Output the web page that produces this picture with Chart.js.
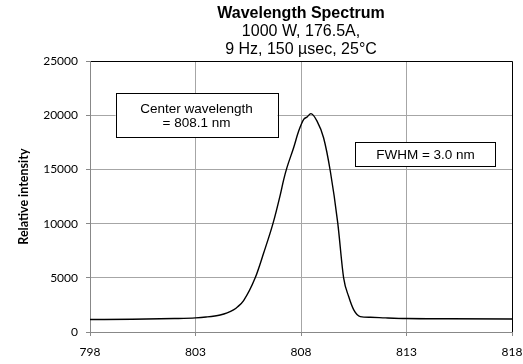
<!DOCTYPE html>
<html>
<head>
<meta charset="utf-8">
<script src="https://cdn.jsdelivr.net/npm/chart.js@4"></script>
<style>
    html, body { margin: 0; padding: 0; background: #fff; }
    #wrap { width: 523px; height: 364px; }
</style>
</head>
<body>
<div id="wrap"><canvas id="spectrumChart"></canvas></div>
<script>
// wavelength (nm) and relative intensity
const wavelength = [798, 800, 802, 803, 803.5, 804.17, 804.5, 804.8, 805.0, 805.28, 805.83, 806.23, 806.67, 807.02, 807.18, 807.33, 807.65, 807.89, 808.13, 808.28, 808.47, 808.76, 809.07, 809.39, 809.74, 810.02, 810.26, 810.5, 810.81, 811.29, 812, 813, 815, 818];
const intensity = [1150, 1180, 1240, 1300, 1380, 1570, 1760, 2040, 2330, 2900, 5000, 7290, 10000, 12690, 14070, 15150, 17010, 18550, 19630, 19840, 20160, 19470, 17930, 14840, 10100, 5000, 3270, 2040, 1420, 1360, 1300, 1240, 1220, 1200];

const xTicks = [798, 803, 808, 813, 818];
const titleText = 'Wavelength Spectrum';
const subtitleLines = ['1000 W, 176.5A,', '9 Hz, 150 \u00b5sec, 25\u00b0C'];
const notes = [
    { lines: ['Center wavelength', '= 808.1 nm'], x: 803.05, y: 20000, w: 162, h: 44 },
    { lines: ['FWHM = 3.0 nm'], x: 813.9, y: 16390, w: 140, h: 24 }
];

const ctx = document.getElementById('spectrumChart').getContext('2d');

const notesPlugin = {
    id: 'notes',
    afterDatasetsDraw(chart) {
        const c = chart.ctx;
        const xs = chart.scales.x, ys = chart.scales.y;
        c.save();
        notes.forEach(n => {
            const cx = xs.getPixelForValue(n.x);
            const cy = ys.getPixelForValue(n.y);
            c.fillStyle = '#fff';
            c.fillRect(cx - n.w / 2, cy - n.h / 2, n.w, n.h);
            c.strokeStyle = '#000';
            c.lineWidth = 1;
            c.strokeRect(Math.round(cx - n.w / 2) + 0.5, Math.round(cy - n.h / 2) + 0.5, n.w, n.h);
            c.fillStyle = '#000';
            c.font = '13.5px "Liberation Sans", Arial, sans-serif';
            c.textAlign = 'center';
            c.textBaseline = 'middle';
            const lh = 14;
            const start = cy - (n.lines.length - 1) * lh / 2;
            n.lines.forEach((t, i) => c.fillText(t, cx, start + i * lh + 1));
        });
        c.restore();
    }
};

new Chart(ctx, {
    type: 'scatter',
    data: {
        datasets: [{
            data: wavelength.map((w, i) => ({ x: w, y: intensity[i] })),
            showLine: true,
            borderColor: '#000',
            borderWidth: 1.4,
            pointRadius: 0,
            cubicInterpolationMode: 'monotone'
        }]
    },
    options: {
        responsive: true,
        maintainAspectRatio: false,
        animation: false,
        layout: { padding: 0 },
        plugins: {
            legend: { display: false },
            tooltip: { enabled: false },
            title: {
                display: true,
                text: titleText,
                fullSize: false,
                color: '#000',
                font: { family: '"Liberation Sans", Arial, sans-serif', size: 16, weight: 'bold', lineHeight: 1.15 },
                padding: { top: 4, bottom: 0 }
            },
            subtitle: {
                display: true,
                text: subtitleLines,
                fullSize: false,
                color: '#000',
                font: { family: '"Liberation Sans", Arial, sans-serif', size: 16, lineHeight: 1.15 },
                padding: { top: 0, bottom: 2 }
            }
        },
        scales: {
            x: {
                type: 'linear',
                min: 798,
                max: 818,
                afterBuildTicks: axis => { axis.ticks = xTicks.map(v => ({ value: v })); },
                afterFit: axis => {
                    axis.height = 32;
                    axis.paddingRight = 11;
                    axis.paddingLeft = 0;
                },
                border: { color: '#888', width: 1 },
                grid: {
                    color: c => c.tick && c.tick.value === 818 ? '#000' : '#a6a6a6',
                    tickColor: '#888',
                    tickLength: 4
                },
                ticks: {
                    color: '#000',
                    padding: 9,
                    maxRotation: 0,
                    callback: v => String(v),
                    font: { family: 'Lato, "Open Sans", sans-serif', size: 12 }
                }
            },
            y: {
                min: 0,
                max: 25000,
                afterFit: axis => { axis.width = 90; },
                border: { color: '#888', width: 1 },
                grid: {
                    color: c => c.tick && c.tick.value === 25000 ? '#000' : '#a6a6a6',
                    tickColor: '#888',
                    tickLength: 4
                },
                ticks: {
                    stepSize: 5000,
                    color: '#000',
                    padding: 8,
                    callback: v => String(v),
                    font: { family: 'Lato, "Open Sans", sans-serif', size: 12 }
                },
                title: {
                    display: true,
                    text: 'Relative intensity',
                    color: '#000',
                    padding: { top: 16, bottom: 0 },
                    font: { family: 'Lato, "Open Sans", sans-serif', size: 12.5, weight: 'bold' }
                }
            }
        }
    },
    plugins: [notesPlugin]
});
</script>
</body>
</html>
